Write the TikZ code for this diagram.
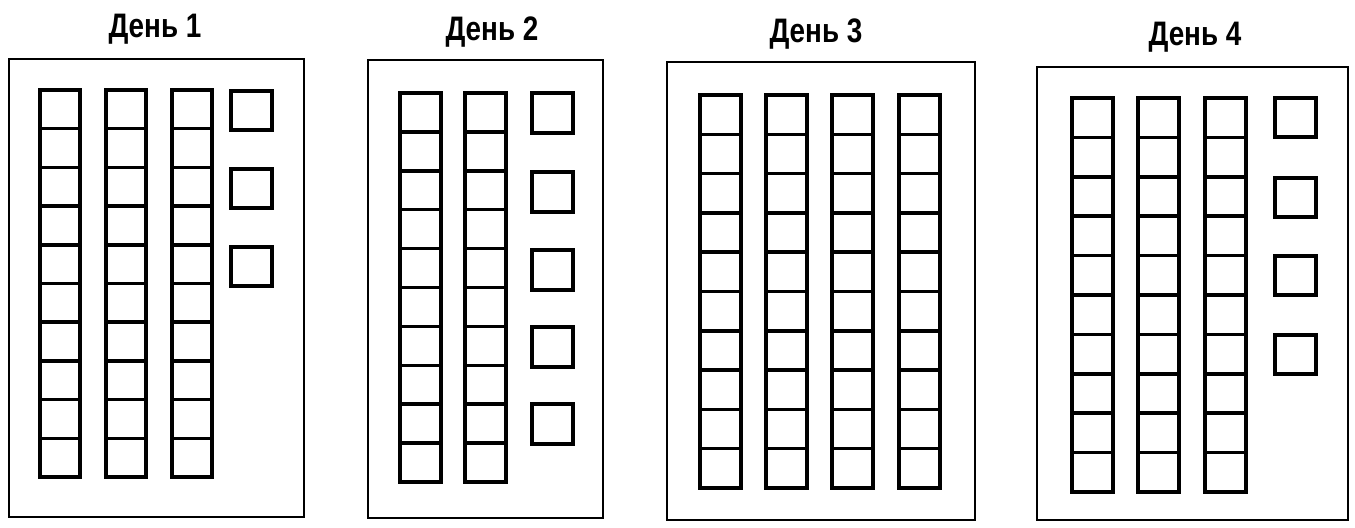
\documentclass[tikz,border=0pt]{standalone}
\usepackage{fontspec}
\setmainfont{Liberation Sans}
\usepackage{tikz}
\tikzset{
  cell/.style={line width=3pt},
  frame/.style={line width=2.5pt},
  daytitle/.style={font=\bfseries\fontsize{29}{34}\selectfont, anchor=base, xscale=0.82, transform shape},
}

\begin{document}
\begin{tikzpicture}[x=0.03cm, y=-0.03cm]
    \useasboundingbox (0,0) rectangle (1355,527);
    % day 1
    \draw[frame] (9,59) rectangle (304,517);
    \foreach \x in {40,106,172} \foreach \i in {0,...,9} \draw[cell] (\x,90+\i*38.7) rectangle ++(40,38.7);
    \foreach \y in {91,169,247} \draw[cell] (231,\y) rectangle ++(41,39);
    \node[daytitle] (day1) at (155,37) {День 1};
    % day 2
    \draw[frame] (368,60) rectangle (603,518);
    \foreach \x in {400,465} \foreach \i in {0,...,9} \draw[cell] (\x,93+\i*38.9) rectangle ++(41,38.9);
    \foreach \y in {93,172,250,327,404} \draw[cell] (532,\y) rectangle ++(41,40);
    \node[daytitle] (day2) at (492,40) {День 2};
    % day 3
    \draw[frame] (667,62) rectangle (975,520);
    \foreach \x in {700,766,832,899} \foreach \i in {0,...,9} \draw[cell] (\x,95+\i*39.3) rectangle ++(41,39.3);
    \node[daytitle] (day3) at (816,42) {День 3};
    % day 4
    \draw[frame] (1037,67) rectangle (1348,520);
    \foreach \x in {1072,1138,1205} \foreach \i in {0,...,9} \draw[cell] (\x,98+\i*39.4) rectangle ++(41,39.4);
    \foreach \y in {98,178,256,335} \draw[cell] (1275,\y) rectangle ++(41,39);
    \node[daytitle] (day4) at (1195,45) {День 4};
\end{tikzpicture}
\end{document}
